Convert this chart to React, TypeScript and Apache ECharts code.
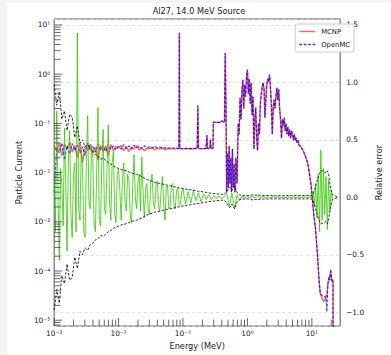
import React, { useEffect, useRef } from "react";
import * as echarts from "echarts";

// ---------- Flux data (Particle Current, left log axis) ----------
const fluxLowE = [
  0.001, 0.001096, 0.001202, 0.001318, 0.001445, 0.001585, 0.001738, 0.001905, 0.002089, 0.002291,
  0.002512, 0.002754, 0.00302, 0.003311, 0.003631, 0.003981, 0.004365, 0.004786, 0.005248, 0.005754,
  0.00631, 0.006918, 0.007586, 0.008318, 0.00912,
  0.01, 0.01096, 0.01202, 0.01318, 0.01445, 0.01585, 0.01738, 0.01905, 0.02089, 0.02291,
  0.02512, 0.02754, 0.0302, 0.03311, 0.03631, 0.03981, 0.04365, 0.04786, 0.05248, 0.05754,
  0.0631, 0.06918, 0.07586, 0.08318,
];
const mcnpLow = [
  0.035, 0.028, 0.04, 0.022, 0.038, 0.03, 0.042, 0.026, 0.036, 0.02,
  0.04, 0.016, 0.034, 0.028, 0.038, 0.025, 0.033, 0.018, 0.036, 0.027,
  0.035, 0.022, 0.037, 0.028, 0.034,
  0.031, 0.036, 0.028, 0.034, 0.027, 0.033, 0.03, 0.035, 0.029, 0.032,
  0.028, 0.031, 0.03, 0.033, 0.029, 0.031, 0.03, 0.032, 0.029, 0.031,
  0.03, 0.031, 0.03, 0.031,
];
const openmcLow = [
  0.004, 0.03, 0.025, 0.04, 0.018, 0.035, 0.024, 0.039, 0.028, 0.036,
  0.025, 0.033, 0.022, 0.04, 0.03, 0.035, 0.026, 0.038, 0.029, 0.034,
  0.027, 0.037, 0.03, 0.035, 0.029,
  0.034, 0.03, 0.037, 0.031, 0.035, 0.03, 0.036, 0.032, 0.034, 0.031,
  0.035, 0.032, 0.033, 0.031, 0.034, 0.032, 0.033, 0.031, 0.032, 0.031,
  0.032, 0.031, 0.032, 0.031,
];
// region where both codes agree closely
const fluxMidE = [
  0.0865, 0.0877, 0.089, 0.0912, 0.1, 0.11, 0.12, 0.13, 0.14, 0.155,
  0.166, 0.17, 0.174, 0.2, 0.228, 0.235, 0.24, 0.26, 0.266, 0.272,
  0.292, 0.296, 0.33, 0.37, 0.4, 0.42, 0.44, 0.452, 0.465, 0.475,
  0.49, 0.505, 0.52, 0.535, 0.55, 0.565, 0.585, 0.6, 0.62, 0.64,
  0.66, 0.69, 0.719, 0.743, 0.769, 0.794, 0.821, 0.848, 0.877, 0.906,
  0.936, 0.968, 1.0, 1.033, 1.068, 1.104, 1.141, 1.179, 1.219, 1.259,
  1.302, 1.345, 1.39, 1.437, 1.485, 1.535, 1.586, 1.639, 1.694, 1.75,
  1.81, 1.87, 1.93, 1.997, 2.06, 2.13, 2.2, 2.28, 2.35, 2.43,
  2.51, 2.59, 2.68, 2.77, 2.86, 2.96, 3.06, 3.16, 3.27, 3.38,
  3.49, 3.6, 3.72, 3.85, 3.97, 4.11, 4.24, 4.39, 4.53, 4.69,
  4.85, 5.01, 5.18, 5.35, 5.53, 5.72, 5.91, 6.11, 6.32, 6.55,
  7.0, 7.49, 8.0, 8.55, 8.84, 9.13, 9.76, 10.7, 11.4, 12.2,
  13.0, 13.5,
];
const fluxMid = [
  0.031, 6.9, 0.031, 0.031, 0.0305, 0.031, 0.0305, 0.031, 0.0305, 0.031,
  0.031, 0.23, 0.031, 0.0305, 0.031, 0.057, 0.031, 0.0305, 0.047, 0.031,
  0.031, 0.105, 0.105, 0.104, 0.112, 0.108, 0.105, 2.7, 0.21, 0.004,
  0.025, 0.005, 0.035, 0.006, 0.02, 0.004, 0.03, 0.005, 0.015, 0.004,
  0.02, 0.006, 0.1, 0.06, 0.33, 0.12, 0.45, 0.77, 0.2, 0.6,
  0.35, 0.9, 1.23, 0.4, 0.8, 0.25, 0.67, 0.15, 0.35, 0.03,
  0.12, 0.21, 0.05, 0.028, 0.1, 0.06, 0.25, 0.4, 0.55, 0.67,
  0.5, 0.13, 0.3, 0.6, 0.8, 0.7, 0.98, 0.5, 0.25, 0.06,
  0.2, 0.3, 0.2, 0.35, 0.53, 0.3, 0.49, 0.2, 0.12, 0.05,
  0.12, 0.09, 0.13, 0.07, 0.1, 0.06, 0.085, 0.055, 0.075, 0.05,
  0.07, 0.06, 0.045, 0.06, 0.045, 0.05, 0.04, 0.045, 0.036, 0.035,
  0.031, 0.026, 0.021, 0.016, 0.013, 0.01, 0.0054, 0.00145, 0.00072, 0.00022,
  0.00006, 0.000035,
];
const fluxTailE = [14.4, 15.0, 15.5, 16.0, 16.5, 17.1, 17.7, 18.3, 18.9, 19.6, 20.3, 21.0, 21.3, 21.4];
const mcnpTail = [2.8e-5, 2.5e-5, 2.4e-5, 2.6e-5, 3.0e-5, 3.2e-5, 5.5e-5, 7e-5, 7e-5, 1.0e-4, 6e-5, 6.5e-5, 6e-5, 1e-6];
const openmcTail = [3.2e-5, 3.0e-5, 3.0e-5, 3.0e-5, 3.1e-5, 1.5e-5, 5e-5, 7.5e-5, 6.5e-5, 1.1e-4, 6.5e-5, 7e-5, 5.5e-5, 1e-6];

// ---------- Relative difference (green, right axis) ----------
const diffE = [
  0.001, 0.001047, 0.001096, 0.001148, 0.001202, 0.001259, 0.001318, 0.00138, 0.001445, 0.001514,
  0.001585, 0.00166, 0.001738, 0.00182, 0.001905, 0.001995, 0.002089, 0.002188, 0.002291, 0.002399,
  0.002512, 0.00263, 0.002754, 0.002884, 0.00302, 0.003162, 0.003311, 0.003467, 0.003631, 0.003802,
  0.003981, 0.004169, 0.004365, 0.004571, 0.004786, 0.005012, 0.005248, 0.005495, 0.005754, 0.006026,
  0.00631, 0.006607, 0.006918, 0.007244, 0.007586, 0.007943, 0.008318, 0.00871, 0.00912, 0.00955,
  0.01, 0.01047, 0.01096, 0.01148, 0.01202, 0.01259, 0.01318, 0.0138, 0.01445, 0.01514,
  0.01585, 0.0166, 0.01738, 0.0182, 0.01905, 0.01995, 0.02089, 0.02188, 0.02291, 0.02399,
  0.02512, 0.0263, 0.02754, 0.02884, 0.0302, 0.03162, 0.03311, 0.03467, 0.03631, 0.03802,
  0.03981, 0.04169, 0.04365, 0.04571, 0.04786, 0.05012, 0.05248, 0.05495, 0.05754, 0.06026,
  0.0631, 0.06607, 0.06918, 0.07244, 0.07586, 0.07943, 0.08318, 0.0871, 0.0912, 0.0955,
  0.1, 0.1096, 0.1202, 0.1318, 0.1445, 0.1585, 0.1738, 0.1905, 0.2089, 0.2291,
  0.2512, 0.2754, 0.302, 0.3311, 0.3631, 0.3981, 0.4365, 0.4786, 0.5248, 0.5754,
  0.631, 0.6918, 0.7586, 0.8318, 0.912,
  1.0, 1.096, 1.202, 1.318, 1.445, 1.585, 1.738, 1.905, 2.089, 2.291,
  2.512, 2.754, 3.02, 3.311, 3.631, 3.981, 4.365, 4.786, 5.248, 5.754,
  6.31, 6.918, 7.586, 8.318, 9.12,
  10.0, 10.47, 10.96, 11.48, 12.02, 12.59, 13.18, 13.8, 14.45, 15.14,
  15.85, 16.6, 17.38, 18.2, 19.05, 19.95, 20.89,
];
const relDiff = [
  0.2, -0.3, 0.75, 0.05, -0.55, 0.25, 0.1, -0.25, 0.6, 0.1,
  -0.47, 0.3, 0.58, -0.15, -0.35, 0.2, 0.3, -0.3, 1.43, -0.1,
  -0.2, 0.4, 0.25, -0.3, -0.35, 0.3, 0.71, -0.05, -0.1, 0.45,
  0.35, -0.25, -0.3, 0.2, 0.78, -0.2, -0.25, 0.3, 0.59, -0.1,
  -0.15, 0.25, 0.63, -0.05, -0.2, 0.3, 0.4, -0.15, -0.22, 0.2,
  0.25, 0.05, -0.2, 0.15, 0.3, -0.05, -0.12, 0.2, 0.15, -0.15,
  -0.22, 0.1, 0.37, 0.0, -0.1, 0.12, 0.2, -0.12, 0.35, 0.05,
  -0.18, 0.08, 0.12, -0.1, -0.15, 0.15, 0.2, -0.05, -0.1, 0.1,
  0.14, -0.08, -0.12, 0.06, 0.18, -0.05, -0.2, 0.08, 0.1, -0.1,
  -0.08, 0.1, 0.12, -0.06, -0.1, 0.06, 0.08, -0.07, -0.06, 0.05,
  0.07, -0.06, 0.05, -0.05, 0.06, -0.03, 0.04, -0.04, 0.03, -0.02,
  0.025, -0.02, 0.015, -0.01, 0.01, -0.015, 0.01, 0.03, -0.08, 0.035,
  -0.1, 0.02, -0.03, 0.01, -0.005,
  0.006, -0.004, 0.01, -0.006, 0.015, -0.01, 0.008, -0.005, 0.004, -0.006,
  0.005, -0.003, 0.004, -0.004, 0.003, -0.003, 0.004, -0.002, 0.003, -0.003,
  0.002, -0.003, 0.003, -0.002, 0.002,
  0.0, 0.05, -0.08, 0.12, -0.18, 0.2, -0.3, 0.41, -0.2, 0.25,
  -0.15, 0.18, -0.28, 0.15, -0.12, 0.06, -0.02,
];

// ---------- Statistical uncertainty envelope (black dashed, right axis) ----------
const sigE = [
  0.001, 0.001096, 0.001202, 0.001318, 0.001445, 0.001585, 0.001738, 0.001905, 0.002089, 0.002291,
  0.002512, 0.002754, 0.00302, 0.003311, 0.003631, 0.003981, 0.004365, 0.004786, 0.005248, 0.005754,
  0.00631, 0.006918, 0.007586, 0.008318, 0.00912,
  0.01, 0.01096, 0.01202, 0.01318, 0.01445, 0.01585, 0.01738, 0.01905, 0.02089, 0.02291,
  0.02512, 0.02754, 0.0302, 0.03311, 0.03631, 0.03981, 0.04365, 0.04786, 0.05248, 0.05754,
  0.0631, 0.06918, 0.07586, 0.08318, 0.0912,
  0.1, 0.1096, 0.1202, 0.1318, 0.1445, 0.1585, 0.1738, 0.1905, 0.2089, 0.2291,
  0.2512, 0.2754, 0.302, 0.3311, 0.3631, 0.3981, 0.4365, 0.4786, 0.5248, 0.5754,
  0.631, 0.6918, 0.7586, 0.8318, 0.912,
  1.0, 1.096, 1.202, 1.318, 1.445, 1.585, 1.738, 1.905, 2.089, 2.291,
  2.512, 2.754, 3.02, 3.311, 3.631, 3.981, 4.365, 4.786, 5.248, 5.754,
  6.31, 6.918, 7.586, 8.318, 9.12,
  10.0, 10.47, 10.96, 11.48, 12.02, 12.59, 13.18, 13.8, 14.45, 15.14,
  15.85, 16.6, 17.38, 18.2, 19.05, 19.95, 20.89, 26.0,
];
const relSigma = [
  0.98, 0.8, 0.92, 0.68, 0.75, 0.58, 0.72, 0.7, 0.52, 0.62,
  0.47, 0.5, 0.44, 0.46, 0.41, 0.4, 0.37, 0.36, 0.33, 0.34,
  0.32, 0.3, 0.29, 0.27, 0.26,
  0.25, 0.24, 0.235, 0.23, 0.22, 0.21, 0.205, 0.2, 0.19, 0.18,
  0.165, 0.155, 0.145, 0.14, 0.13, 0.125, 0.12, 0.115, 0.11, 0.105,
  0.1, 0.095, 0.09, 0.085, 0.08,
  0.075, 0.072, 0.068, 0.065, 0.06, 0.057, 0.053, 0.05, 0.046, 0.042,
  0.038, 0.035, 0.033, 0.03, 0.028, 0.026, 0.025, 0.05, 0.09, 0.06,
  0.1, 0.04, 0.02, 0.015, 0.015,
  0.015, 0.015, 0.022, 0.018, 0.022, 0.016, 0.015, 0.015, 0.015, 0.014,
  0.014, 0.014, 0.014, 0.014, 0.014, 0.014, 0.014, 0.014, 0.014, 0.014,
  0.014, 0.014, 0.014, 0.014, 0.014,
  0.015, 0.03, 0.06, 0.1, 0.14, 0.18, 0.21, 0.23, 0.23, 0.22,
  0.22, 0.21, 0.23, 0.2, 0.12, 0.06, 0.02, 0.0,
];

// ---------- Axes ----------
const xMin = 0.001;
const xMax = 27.5;
const yLeftMin = 7.6e-6;
const yLeftMax = 13.2;
const yRightMin = -1.12;
const yRightMax = 1.55;
const xMajorExps = [-3, -2, -1, 0, 1];
const yLeftExps = [-5, -4, -3, -2, -1, 0, 1];
const yRightTicks = [-1.0, -0.5, 0.0, 0.5, 1.0, 1.5];

const SUP: Record<string, string> = {
  "-": "⁻", "0": "⁰", "1": "¹", "2": "²", "3": "³", "4": "⁴",
  "5": "⁵", "6": "⁶", "7": "⁷", "8": "⁸", "9": "⁹",
};
const pow10Label = (v: number, exps: number[]) => {
  const lg = Math.log10(v);
  const r = Math.round(lg);
  if (Math.abs(lg - r) > 1e-6 || !exps.includes(r)) return "";
  return "10" + String(r).split("").map((c) => SUP[c] ?? c).join("");
};

const logTickValues = (lo: number, hi: number) => {
  const out: number[] = [];
  for (let e = Math.floor(Math.log10(lo)); e <= Math.ceil(Math.log10(hi)); e++) {
    for (let m = 1; m <= 9; m++) {
      const v = m * Math.pow(10, e);
      if (v >= lo * 0.9999 && v <= hi) out.push(v);
    }
  }
  return out;
};

const FONT = "DejaVu Sans";
const RED = "rgba(255,0,0,0.6)";
const BLUE = "rgba(0,0,255,0.78)";

export default function App() {
  const ref = useRef<HTMLDivElement>(null);
  useEffect(() => {
    if (!ref.current) return;
    const chart = echarts.init(ref.current, undefined, { renderer: "svg" });

    const mcnp = [
      ...fluxLowE.map((e, i) => [e, mcnpLow[i]]),
      ...fluxMidE.map((e, i) => [e, fluxMid[i]]),
      ...fluxTailE.map((e, i) => [e, mcnpTail[i]]),
    ];
    const openmc = [
      ...fluxLowE.map((e, i) => [e, openmcLow[i]]),
      ...fluxMidE.map((e, i) => [e, fluxMid[i]]),
      ...fluxTailE.map((e, i) => [e, openmcTail[i]]),
    ];
    const diff = diffE.map((e, i) => [e, relDiff[i]]);
    const upper = sigE.map((e, i) => [e, relSigma[i]]);
    const lower = sigE.map((e, i) => [e, -relSigma[i]]);

    const xTicks = logTickValues(xMin, xMax);
    const yTicks = logTickValues(yLeftMin, yLeftMax);
    const isMajor = (v: number) => Math.abs(Math.log10(v) - Math.round(Math.log10(v))) < 1e-6;

    chart.setOption({
      animation: false,
      textStyle: { fontFamily: FONT },
      title: {
        text: "Al27, 14.0 MeV Source",
        left: "center",
        top: 4,
        padding: 0,
        textStyle: { fontFamily: FONT, fontSize: 8.2, fontWeight: "normal", color: "#222" },
      },
      legend: {
        data: [
          { name: "MCNP", icon: "rect" },
          {
            name: "OpenMC",
            icon: "path://M0,0h3v1h-3zM5,0h3v1h-3zM10,0h3v1h-3zM15,0h3v1h-3z",
          },
        ],
        orient: "vertical",
        right: 37,
        top: 21,
        padding: [4, 4, 4, 4],
        itemGap: 6,
        itemWidth: 16,
        itemHeight: 1.4,
        symbolKeepAspect: false,
        borderColor: "#ccc",
        borderWidth: 1,
        borderRadius: 2,
        backgroundColor: "rgba(255,255,255,0.85)",
        textStyle: { fontFamily: FONT, fontSize: 6.8, color: "#222", padding: [0, 0, 0, 1] },
      },
      grid: {
        left: 36,
        top: 16,
        right: 37,
        bottom: 27,
        show: true,
        borderColor: "#555",
        borderWidth: 1,
        backgroundColor: "transparent",
      },
      xAxis: {
        type: "log",
        logBase: 10,
        min: xMin,
        max: xMax,
        name: "Energy (MeV)",
        nameLocation: "middle",
        nameGap: 15,
        nameTextStyle: { fontFamily: FONT, fontSize: 8.2, color: "#222" },
        axisLine: { show: false },
        axisTick: { show: false },
        splitLine: { show: false },
        axisLabel: {
          fontFamily: FONT,
          fontSize: 7.4,
          color: "#222",
          margin: 4,
          formatter: (v: number) => pow10Label(v, xMajorExps),
        },
      },
      yAxis: [
        {
          type: "log",
          logBase: 10,
          min: yLeftMin,
          max: yLeftMax,
          name: "Particle Current",
          nameLocation: "middle",
          nameGap: 28,
          nameTextStyle: { fontFamily: FONT, fontSize: 8.2, color: "#222" },
          axisLine: { show: false },
          axisTick: { show: false },
          splitLine: { show: false },
          axisLabel: {
            fontFamily: FONT,
            fontSize: 7.4,
            color: "#222",
            margin: 4,
            formatter: (v: number) => pow10Label(v, yLeftExps),
          },
        },
        {
          type: "value",
          position: "right",
          min: yRightMin,
          max: yRightMax,
          name: "Relative error",
          nameLocation: "middle",
          nameGap: 27,
          nameTextStyle: { fontFamily: FONT, fontSize: 8.2, color: "#222" },
          axisLine: { show: false },
          axisTick: { show: false },
          splitLine: {
            show: true,
            lineStyle: { color: "#d9d9d9", width: 0.8, type: [3, 3] },
          },
          axisLabel: {
            fontFamily: FONT,
            fontSize: 7.4,
            color: "#222",
            margin: 6,
            showMinLabel: false,
            showMaxLabel: false,
            formatter: (v: number) => {
              const hit = yRightTicks.find((t) => Math.abs(t - v) < 1e-6);
              if (hit === undefined) return "";
              return hit.toFixed(1).replace("-", "−");
            },
          },
        },
      ],
      series: [
        {
          name: "MCNP",
          type: "line",
          xAxisIndex: 0,
          yAxisIndex: 0,
          data: mcnp,
          showSymbol: false,
          symbol: "none",
          lineStyle: { color: RED, width: 1.5 },
          itemStyle: { color: RED },
          z: 2,
        },
        {
          name: "OpenMC",
          type: "line",
          xAxisIndex: 0,
          yAxisIndex: 0,
          data: openmc,
          showSymbol: false,
          symbol: "none",
          lineStyle: { color: BLUE, width: 1.1, type: [3, 1.5] },
          itemStyle: { color: BLUE },
          z: 3,
        },
        {
          name: "diff",
          type: "line",
          xAxisIndex: 0,
          yAxisIndex: 1,
          data: diff,
          showSymbol: false,
          symbol: "none",
          lineStyle: { color: "rgba(50,200,0,0.8)", width: 1 },
          z: 4,
        },
        {
          name: "sigmaUpper",
          type: "line",
          xAxisIndex: 0,
          yAxisIndex: 1,
          data: upper,
          showSymbol: false,
          symbol: "none",
          lineStyle: { color: "rgba(0,0,0,0.8)", width: 1, type: [2.5, 1.5] },
          z: 5,
        },
        {
          name: "sigmaLower",
          type: "line",
          xAxisIndex: 0,
          yAxisIndex: 1,
          data: lower,
          showSymbol: false,
          symbol: "none",
          lineStyle: { color: "rgba(0,0,0,0.8)", width: 1, type: [2.5, 1.5] },
          z: 5,
        },
        {
          name: "xTicks",
          type: "custom",
          xAxisIndex: 0,
          yAxisIndex: 0,
          silent: true,
          data: xTicks.map((v) => [v, yLeftMin]),
          renderItem: (_p: any, api: any) => {
            const v = api.value(0);
            const pt = api.coord([v, yLeftMin]);
            const len = isMajor(v) ? 8 : 6.5;
            return {
              type: "line",
              shape: { x1: pt[0], y1: pt[1], x2: pt[0], y2: pt[1] - len },
              style: { stroke: "#444", lineWidth: 0.8 },
            };
          },
          z: 6,
        },
        {
          name: "yTicks",
          type: "custom",
          xAxisIndex: 0,
          yAxisIndex: 0,
          silent: true,
          data: yTicks.map((v) => [xMin, v]),
          renderItem: (_p: any, api: any) => {
            const v = api.value(1);
            const pt = api.coord([xMin, v]);
            const len = isMajor(v) ? 8 : 6.5;
            return {
              type: "line",
              shape: { x1: pt[0], y1: pt[1], x2: pt[0] + len, y2: pt[1] },
              style: { stroke: "#444", lineWidth: 0.8 },
            };
          },
          z: 6,
        },
      ],
    });
    return () => chart.dispose();
  }, []);

  return (
    <div style={{ position: "fixed", left: 0, top: 0, width: 391, height: 355, background: "#f4f4f4" }}>
      <div
        ref={ref}
        style={{ position: "absolute", left: 7, top: 3, width: 384, height: 352, background: "#ffffff" }}
      />
    </div>
  );
}
